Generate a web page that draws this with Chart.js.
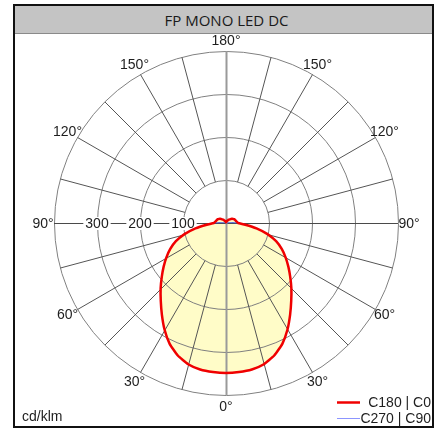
<!DOCTYPE html>
<html>
<head>
<meta charset="utf-8">
<script src="https://cdn.jsdelivr.net/npm/chart.js@4.4.0/dist/chart.umd.min.js"></script>
<style>
  body { margin: 0; background: #fff; }
  #frame { position: absolute; left: 13px; top: 4px; width: 417px; height: 420px; border: 2px solid #111; }
  #title { height: 27px; background: #c4c4c4; border-bottom: 1px solid #8a8a8a; text-align: center;
           font: 15px "Open Sans", sans-serif; line-height: 28px; color: #1a1a1a; padding-left: 6px; }
  #chart { position: absolute; left: 0; top: 0; }
</style>
</head>
<body>
<div id="frame"><div id="title">FP MONO LED DC</div></div>
<canvas id="chart" width="438" height="430"></canvas>
<script>
// gamma angles (0 = straight down), 5 degree steps
const gammaSteps = [0, 5, 10, 15, 20, 25, 30, 35, 40, 45, 50, 55, 60, 65, 70, 75, 80, 85, 90,
                    95, 100, 105, 110, 115, 120, 125, 130, 135, 140, 145, 150, 155, 160, 165, 170, 175, 180];
// cd/klm, C0/C180 plane
const intensityC0C180 = [349, 348, 346, 340, 328, 310, 286, 260, 236, 215, 195, 177, 160, 143, 124, 100, 72, 45, 28,
                         26, 24, 23, 22, 21, 19, 17, 14, 12, 10, 8, 6, 5, 4, 3, 3, 2, 2];
// cd/klm, C90/C270 plane
const intensityC90C270 = [349, 348, 346, 340, 328, 310, 286, 260, 236, 215, 195, 177, 160, 143, 124, 100, 72, 45, 28,
                          10, 3, 2, 1, 1, 1, 1, 1, 1, 1, 1, 1, 1, 1, 1, 1, 1, 1];

const ringValues = [100, 200, 300, 400];
const ringTicks = [100, 200, 300];
const spokeStep = 15;
const angleTicks = [0, 30, 60, 90, 120, 150, 180, 150, 120, 90, 60, 30];
const unitLabel = 'cd/klm';

// radar goes clockwise from the bottom: left half (gamma 0..180), then right half (gamma 175..5)
const stepDeg = 5;
function fullCircle(values) {
  return values.concat(values.slice(1, values.length - 1).reverse());
}
const labels = fullCircle(gammaSteps).map(String);

const polarGrid = {
  id: 'polarGrid',
  afterDatasetDraw(chart, args) {
    if (args.index !== 0) return;
    const s = chart.scales.r;
    const ctx = chart.ctx;
    const R = s.drawingArea;
    const rv = v => s.getDistanceFromCenterForValue(v);
    const at = (deg, r) => s.getPointPosition(deg / stepDeg, r);
    ctx.save();

    // rings
    ctx.strokeStyle = '#808080';
    ctx.lineWidth = 1;
    ringValues.forEach(v => {
      ctx.beginPath();
      ctx.arc(s.xCenter + 0.5, s.yCenter + 0.5, rv(v), 0, Math.PI * 2);
      ctx.stroke();
    });

    // spokes from the inner ring outwards
    ctx.strokeStyle = '#555';
    for (let a = 0; a < 360; a += spokeStep) {
      if (a % 90 === 0) continue;
      const p1 = at(a, rv(ringValues[0]));
      const p2 = at(a, R);
      ctx.beginPath();
      ctx.moveTo(p1.x + 0.5, p1.y + 0.5);
      ctx.lineTo(p2.x + 0.5, p2.y + 0.5);
      ctx.stroke();
    }

    // horizontal axis
    ctx.strokeStyle = '#4a4a4a';
    ctx.beginPath();
    ctx.moveTo(s.xCenter - R, s.yCenter + 0.5);
    ctx.lineTo(s.xCenter + R, s.yCenter + 0.5);
    ctx.stroke();

    // vertical axis
    ctx.strokeStyle = '#9a9a9a';
    ctx.lineWidth = 2;
    ctx.beginPath();
    ctx.moveTo(s.xCenter + 0.5, s.yCenter - R);
    ctx.lineTo(s.xCenter + 0.5, s.yCenter + R);
    ctx.stroke();

    // ring values on the left axis
    ctx.font = '14px "Liberation Sans", Arial, sans-serif';
    ctx.textAlign = 'center';
    ctx.textBaseline = 'middle';
    ringTicks.forEach(v => {
      const p = at(90, rv(v));
      const w = ctx.measureText(String(v)).width;
      ctx.fillStyle = '#fff';
      ctx.fillRect(p.x - w / 2 - 2, p.y - 6, w + 4, 13);
      ctx.fillStyle = '#1e1e1e';
      ctx.fillText(String(v), p.x, p.y + 1);
    });

    // angle labels
    angleTicks.forEach((g, i) => {
      const p = at(i * 30, R + 11);
      ctx.fillStyle = '#1e1e1e';
      ctx.fillText(g + '°', p.x, p.y + 1);
    });
    ctx.restore();
  },
  afterDraw(chart) {
    const ctx = chart.ctx;
    ctx.save();
    ctx.font = '14px "Liberation Sans", Arial, sans-serif';
    ctx.textBaseline = 'middle';
    ctx.fillStyle = '#1e1e1e';
    ctx.textAlign = 'left';
    ctx.fillText(unitLabel, 22, 417);

    // legend, right aligned
    const rows = [chart.data.datasets[2], chart.data.datasets[1]];
    rows.forEach((ds, i) => {
      const y = 402 + i * 16;
      ctx.strokeStyle = ds.legendColor;
      ctx.lineWidth = ds.borderWidth;
      ctx.beginPath();
      ctx.moveTo(337, y + 0.5);
      ctx.lineTo(360, y + 0.5);
      ctx.stroke();
      ctx.textAlign = 'right';
      ctx.fillText(ds.label, 431, y + 1);
    });
    ctx.restore();
  }
};

new Chart(document.getElementById('chart'), {
  type: 'radar',
  data: {
    labels: labels,
    datasets: [
      {
        label: 'fill',
        data: fullCircle(intensityC0C180),
        backgroundColor: 'rgb(255, 252, 200)',
        borderWidth: 0,
        fill: true,
        pointRadius: 0,
        tension: 0.15,
        order: 2
      },
      {
        label: 'C270 | C90',
        data: fullCircle(intensityC90C270),
        borderColor: '#3a55e0',
        legendColor: '#8c95ff',
        borderWidth: 1,
        fill: false,
        pointRadius: 0,
        tension: 0.15,
        order: 1
      },
      {
        label: 'C180 | C0',
        data: fullCircle(intensityC0C180),
        borderColor: '#f00000',
        legendColor: '#f00000',
        borderWidth: 2.5,
        fill: false,
        pointRadius: 0,
        tension: 0.15,
        order: 0
      }
    ]
  },
  options: {
    responsive: false,
    animation: false,
    layout: { padding: { left: 54, top: 51, right: 40, bottom: 35 } },
    plugins: { legend: { display: false }, tooltip: { enabled: false } },
    scales: {
      r: {
        min: 0,
        max: 400,
        startAngle: 180,
        grid: { display: false },
        angleLines: { display: false },
        pointLabels: { display: false },
        ticks: { display: false }
      }
    }
  },
  plugins: [polarGrid]
});
</script>
</body>
</html>
